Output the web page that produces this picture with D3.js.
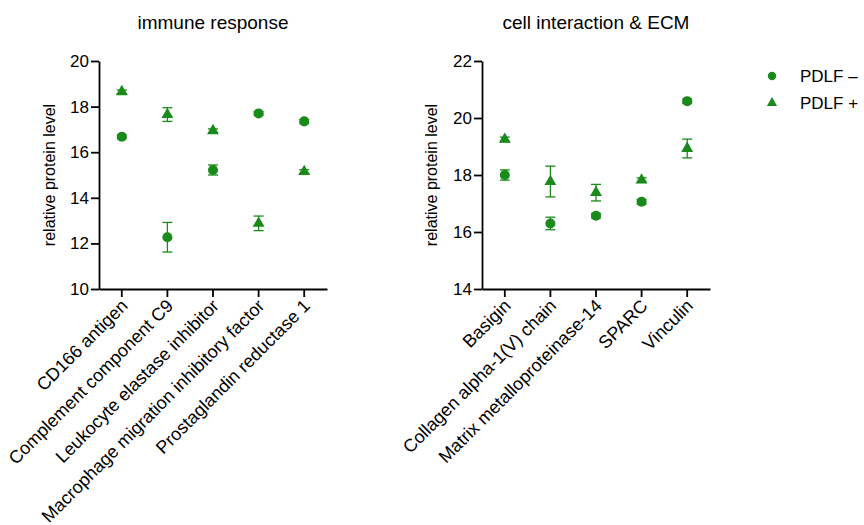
<!DOCTYPE html>
<html>
<head>
<meta charset="utf-8">
<script src="https://cdn.jsdelivr.net/npm/d3@7"></script>
<style>
  body { margin: 0; background: #fff; }
  svg { font-family: "Liberation Sans", Arial, sans-serif; }
</style>
</head>
<body>
<svg id="chart" width="864" height="525"></svg>
<script>
// panel 1: immune response
const immuneCats = ["CD166 antigen", "Complement component C9", "Leukocyte elastase inhibitor",
  "Macrophage migration inhibitory factor", "Prostaglandin reductase 1"];
const immuneNeg = [16.68, 12.27, 15.22, 17.70, 17.35];
const immuneNegErr = [0.08, 0.65, 0.22, 0.08, 0.08];
const immunePos = [18.65, 17.65, 16.94, 12.88, 15.15];
const immunePosErr = [0.08, 0.30, 0.08, 0.32, 0.08];
const immuneTicks = [10, 12, 14, 16, 18, 20];

// panel 2: cell interaction & ECM
const ecmCats = ["Basigin", "Collagen alpha-1(V) chain", "Matrix metalloproteinase-14", "SPARC", "Vinculin"];
const ecmNeg = [18.00, 16.30, 16.57, 17.06, 20.59];
const ecmNegErr = [0.18, 0.22, 0.08, 0.08, 0.08];
const ecmPos = [19.25, 17.77, 17.38, 17.82, 18.93];
const ecmPosErr = [0.08, 0.54, 0.29, 0.08, 0.33];
const ecmTicks = [14, 16, 18, 20, 22];

const green = "#1a8a1a";
const svg = d3.select("#chart");

function drawPanel(opts) {
  const g = svg.append("g");
  const x = d3.scaleBand().domain(opts.cats).range([opts.left, opts.left + 228]);
  const y = d3.scaleLinear().domain(opts.domain).range([289, 61]);

  // axes
  const yAxis = g.append("g").attr("transform", `translate(${opts.left},0)`)
    .call(d3.axisLeft(y).tickValues(opts.ticks).tickSize(8).tickSizeOuter(0).tickFormat(d3.format("d")));
  const xAxis = g.append("g").attr("transform", "translate(0,289)")
    .call(d3.axisBottom(x).tickSize(8).tickSizeOuter(0));
  [yAxis, xAxis].forEach(a => {
    a.select(".domain").attr("stroke", "#000").attr("stroke-width", 1.8);
    a.selectAll(".tick line").attr("stroke", "#000").attr("stroke-width", 1.8);
    a.selectAll("text").attr("fill", "#000");
  });
  yAxis.selectAll("text").attr("x", -10).style("font-size", "17px");
  xAxis.selectAll("text")
    .style("font-size", "18px")
    .attr("text-anchor", "end")
    .attr("dy", 0)
    .attr("y", 0)
    .attr("transform", "translate(7,18) rotate(-45)");

  // title + y label
  g.append("text").attr("x", opts.left + 114).attr("y", 29).attr("text-anchor", "middle")
    .style("font-size", "19px").text(opts.title);
  g.append("text").attr("transform", `translate(${opts.labelX},175) rotate(-90)`)
    .attr("text-anchor", "middle").style("font-size", "16px").text("relative protein level");

  const series = [
    { vals: opts.neg, errs: opts.negErr, shape: d3.symbolCircle, size: 80 },
    { vals: opts.pos, errs: opts.posErr, shape: d3.symbolTriangle, size: 62 }
  ];
  series.forEach(s => {
    const cx = i => x(opts.cats[i]) + x.bandwidth() / 2;
    const eb = g.append("g").attr("stroke", green).attr("stroke-width", 1.3);
    s.vals.forEach((v, i) => {
      const top = y(v + s.errs[i]), bot = y(v - s.errs[i]);
      eb.append("line").attr("x1", cx(i)).attr("x2", cx(i)).attr("y1", top).attr("y2", bot);
      eb.append("line").attr("x1", cx(i) - 5).attr("x2", cx(i) + 5).attr("y1", top).attr("y2", top);
      eb.append("line").attr("x1", cx(i) - 5).attr("x2", cx(i) + 5).attr("y1", bot).attr("y2", bot);
    });
    g.selectAll(null).data(s.vals).join("path")
      .attr("d", d3.symbol(s.shape, s.size))
      .attr("transform", (d, i) => `translate(${cx(i)},${y(d)})`)
      .attr("fill", green);
  });
}

drawPanel({ cats: immuneCats, neg: immuneNeg, negErr: immuneNegErr, pos: immunePos, posErr: immunePosErr,
  ticks: immuneTicks, domain: [10, 20], left: 99, labelX: 55, title: "immune response" });
drawPanel({ cats: ecmCats, neg: ecmNeg, negErr: ecmNegErr, pos: ecmPos, posErr: ecmPosErr,
  ticks: ecmTicks, domain: [14, 22], left: 482, labelX: 437, title: "cell interaction & ECM" });

// legend
const legend = svg.append("g").attr("transform", "translate(772,0)");
legend.append("path").attr("d", d3.symbol(d3.symbolCircle, 55)).attr("transform", "translate(0,76)").attr("fill", green);
legend.append("path").attr("d", d3.symbol(d3.symbolTriangle, 45)).attr("transform", "translate(0,103)").attr("fill", green);
legend.append("text").attr("x", 28).attr("y", 82).style("font-size", "17px").text("PDLF \u2013");
legend.append("text").attr("x", 28).attr("y", 109).style("font-size", "17px").text("PDLF +");
</script>
</body>
</html>
